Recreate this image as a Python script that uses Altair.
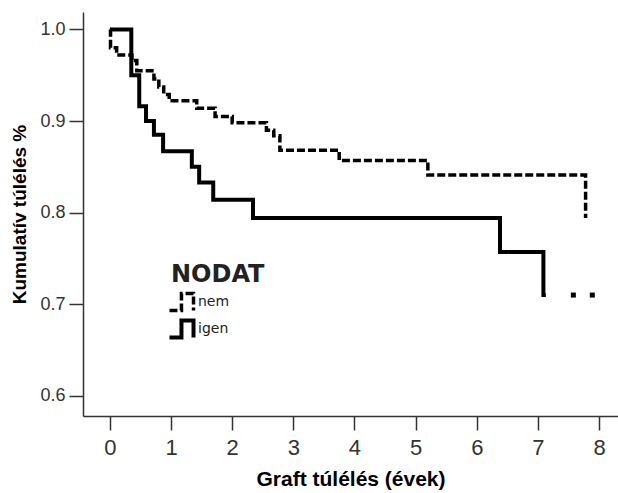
import altair as alt
import pandas as pd

# Kaplan-Meier survival steps (time in years, cumulative survival)
nem_time = [0.0, 0.01, 0.11, 0.36, 0.44, 0.72, 0.80, 0.88, 0.97, 1.42, 1.72, 2.00, 2.56, 2.68, 2.78, 3.75, 5.20, 7.78]
nem_surv = [1.000, 0.980, 0.972, 0.966, 0.955, 0.946, 0.937, 0.929, 0.922, 0.914, 0.905, 0.898, 0.890, 0.884, 0.868, 0.857, 0.841, 0.794]

igen_time = [0.0, 0.35, 0.48, 0.59, 0.72, 0.87, 1.34, 1.46, 1.69, 2.34, 6.38, 7.09, 7.13]
igen_surv = [1.000, 0.950, 0.916, 0.900, 0.885, 0.867, 0.850, 0.833, 0.814, 0.794, 0.757, 0.710, 0.710]

# censored cases after the last event in the "igen" group
igen_cens_time = [7.58, 7.89]
igen_cens_surv = [0.710, 0.710]

groups = ["nem", "igen"]
x_ticks = [0, 1, 2, 3, 4, 5, 6, 7, 8]
y_ticks = [0.6, 0.7, 0.8, 0.9, 1.0]

curves = pd.DataFrame({
    "t": nem_time + igen_time,
    "s": nem_surv + igen_surv,
    "NODAT": ["nem"] * len(nem_time) + ["igen"] * len(igen_time),
})
censored = pd.DataFrame({"t": igen_cens_time, "s": igen_cens_surv})

x_scale = alt.Scale(domain=[-0.44, 8.31], nice=False, zero=False)
y_scale = alt.Scale(domain=[0.578, 1.019], nice=False, zero=False)

x_axis = alt.Axis(
    values=x_ticks, format="d", title="Graft túlélés (évek)", grid=False,
    labelFont="Liberation Sans", labelFontSize=22, labelColor="#333",
    labelPadding=7, tickSize=14, tickWidth=1.5, tickColor="#333",
    domainColor="#333", domainWidth=1.5,
    titleFont="Liberation Sans", titleFontSize=21, titleFontWeight="bold",
    titleColor="black", titlePadding=10,
)
y_axis = alt.Axis(
    values=y_ticks, format=".1f", title="Kumulatív túlélés %", grid=False,
    labelFont="Liberation Sans", labelFontSize=18, labelColor="#333",
    labelPadding=4, tickSize=14, tickWidth=1.5, tickColor="#333",
    domainColor="#333", domainWidth=1.5,
    titleFont="Liberation Sans", titleFontSize=19, titleFontWeight="bold",
    titleColor="black", titlePadding=10,
)

# step-shaped legend glyph, drawn a little larger than its nominal size
step_path = "M-1.39,0.94L-0.06,0.94L-0.06,-0.94L1.28,-0.94L1.28,0.94"

lines = alt.Chart(curves).mark_line(
    interpolate="step-after", color="black", strokeCap="butt", strokeJoin="miter"
).encode(
    x=alt.X("t:Q", scale=x_scale, axis=x_axis),
    y=alt.Y("s:Q", scale=y_scale, axis=y_axis),
    strokeDash=alt.StrokeDash(
        "NODAT:N",
        scale=alt.Scale(domain=groups, range=[[8, 3], [1, 0]]),
        legend=alt.Legend(
            orient="none", legendX=88, legendY=251, padding=0,
            title="NODAT", titleFont="DejaVu Sans", titleFontSize=24,
            titleFontWeight="bold", titleColor="#222", titlePadding=4,
            labelFont="DejaVu Sans", labelFontSize=14, labelColor="#222",
            labelOffset=5, rowPadding=-8,
            symbolType=step_path, symbolSize=324, symbolStrokeWidth=3.5,
            symbolStrokeColor="black", symbolFillColor="transparent",
        ),
    ),
    strokeWidth=alt.StrokeWidth(
        "NODAT:N",
        scale=alt.Scale(domain=groups, range=[3.5, 4]),
        legend=None,
    ),
    order=alt.Order("t:Q"),
)

cens = alt.Chart(censored).mark_square(size=25, color="black", opacity=1).encode(
    x=alt.X("t:Q", scale=x_scale),
    y=alt.Y("s:Q", scale=y_scale),
)

chart = alt.layer(lines, cens).properties(
    width=535,
    height=404,
    autosize=alt.AutoSizeParams(type="none"),
    padding={"left": 83, "top": 12, "right": 0, "bottom": 77},
    background="white",
).configure_view(stroke=None)

chart.save("out.html", embed_options={"renderer": "svg", "actions": False})
